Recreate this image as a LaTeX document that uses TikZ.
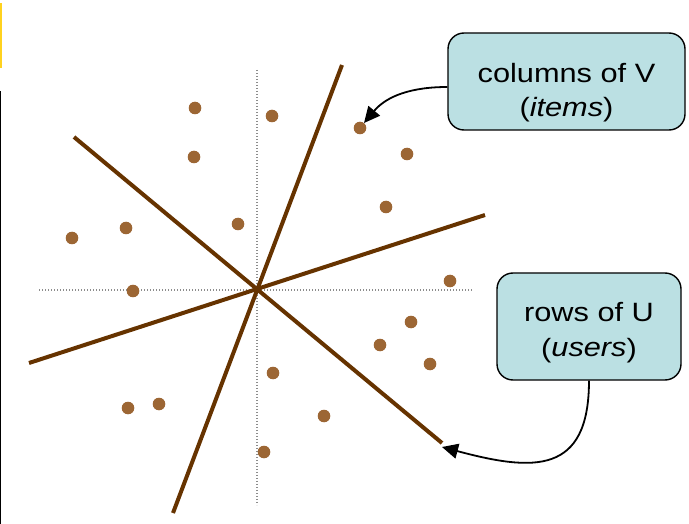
\documentclass[tikz,border=0pt]{standalone}
\usepackage{fontspec}
\setmainfont{Liberation Sans}
\newfontfamily\calloutfont[FakeStretch=1.16]{Liberation Sans}
\usetikzlibrary{arrows.meta}
\definecolor{linebrown}{HTML}{663300}
\definecolor{dotbrown}{HTML}{9C6634}
\definecolor{boxfill}{HTML}{BBE0E3}
\definecolor{axisgrey}{HTML}{8C8C8C}
\definecolor{edgeyellow}{HTML}{FFD21F}
\begin{document}
\begin{tikzpicture}[x=1pt,y=-1pt,
  axisline/.style={axisgrey,line width=1.1pt,dash pattern=on 1.1pt off 1.9pt},
  vecline/.style={linebrown,line width=4pt},
  datadot/.style={circle,fill=dotbrown,inner sep=0pt,minimum size=12.6pt},
  callout/.style={draw=black,line width=1.4pt,fill=boxfill,rounded corners=16pt,
    align=center,inner sep=0pt},
  pointer/.style={black,line width=1.8pt,-{Triangle[length=16pt,width=15pt]}}]
\useasboundingbox (0,0) rectangle (689,524);
% edge marks
\fill[edgeyellow] (0,3) rectangle (2.2,68);
\fill[black] (0,91) rectangle (1.3,524);
% axes
\draw[axisline] (39,290) -- (472,290);
\draw[axisline] (257,70) -- (257,505);
% lines
\draw[vecline] (342,65) -- (173,513);
\draw[vecline] (74,137) -- (442,443);
\draw[vecline] (29,363) -- (485,215);
% dots
\foreach \i/\p in {1/{(195,108)},2/{(272,116)},3/{(360,128)},4/{(194,157)},5/{(407,154)},
  6/{(386,207)},7/{(238,224)},8/{(126,228)},9/{(72,238)},10/{(450,281)},11/{(133,291)},
  12/{(411,322)},13/{(380,345)},14/{(430,364)},15/{(273,373)},16/{(159,404)},
  17/{(128,408)},18/{(324,416)},19/{(264,452)}}
  \node[datadot] (d\i) at \p {};
% callouts
\node[callout,minimum width=237pt,minimum height=97pt,text height=71pt,text depth=0pt,
  font=\calloutfont\fontsize{26.5}{34}\selectfont]
  (boxV) at (566.5,81.5) {columns of V\\(\textit{items})};
\node[callout,minimum width=184pt,minimum height=107pt,text height=61pt,text depth=0pt,
  font=\calloutfont\fontsize{26.5}{36}\selectfont]
  (boxU) at (589,326.5) {rows of U\\(\textit{users})};
\coordinate (tipV) at (364,123);
\coordinate (tipU) at (442,447);
\draw[pointer] ([yshift=-5.5pt]boxV.west) to[out=180,in=50] (tipV);
\draw[pointer] (boxU.south) to[out=-90,in=-15,looseness=1.5] (tipU);
\end{tikzpicture}
\end{document}
